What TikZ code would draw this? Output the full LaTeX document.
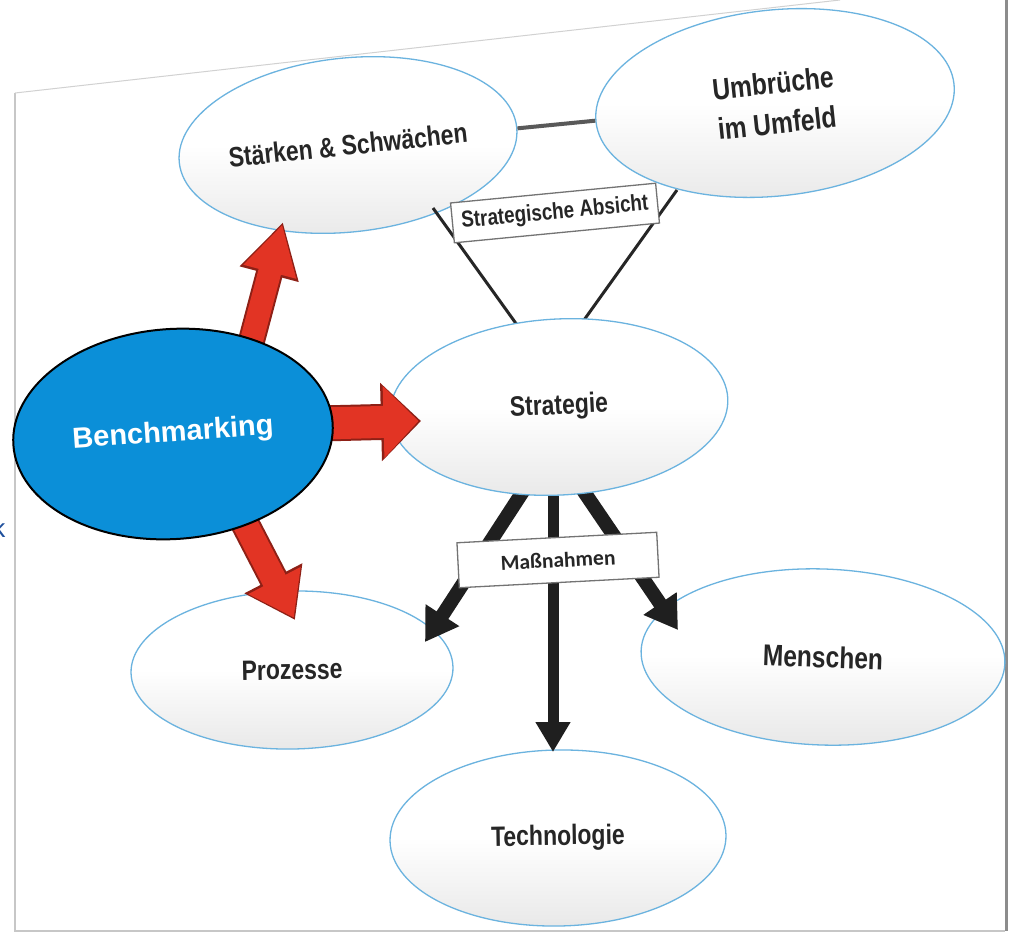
\documentclass[tikz,border=0pt]{standalone}
\usepackage{fontspec}
\setmainfont{Liberation Sans}
\newfontfamily\condfont{Liberation Sans}[FakeStretch=0.82]
\newfontfamily\calfont{Carlito}
\usetikzlibrary{shapes.geometric,arrows.meta}
\definecolor{ellblue}{HTML}{6BB3DF}
\definecolor{benchblue}{HTML}{0B8FD8}
\definecolor{redfill}{HTML}{E23424}
\definecolor{reddark}{HTML}{8E2016}
\definecolor{txt}{HTML}{262626}
\definecolor{kblue}{HTML}{1E4F9C}
\begin{document}
\begin{tikzpicture}[x=1pt,y=-1pt,
  ell/.style={ellipse, draw=ellblue, line width=1.3pt, top color=white, bottom color=black!9, middle color=white,
    inner sep=0pt, text=txt, align=center, font=\condfont\bfseries\fontsize{28}{36}\selectfont},
  labbox/.style={draw=black!55, fill=white, line width=1.3pt, inner sep=0pt, text=txt},
  tri/.style={draw=black!85, line width=3pt},
  blk/.style={draw=black!88, line width=14pt, -{Triangle[length=32pt,width=38pt]}},
  redout/.style={draw=reddark},
  redin/.style={draw=redfill},
  frame/.style={draw=black!22, line width=1.5pt}
]
\useasboundingbox (0,0) rectangle (1009,935);
\fill[white] (0,0) rectangle (1009,935);
% frame
\draw[frame] (15,93) -- (15,931) -- (1005,931);
\draw[black!18, line width=1pt] (15,93) -- (840,0);
\draw[black!45, line width=3pt] (1006,0) -- (1006,931);

% white ellipses
\node[ell, minimum width=330pt, minimum height=174pt, rotate=6] (staerken) at (348,145) {St\"arken \& Schw\"achen};
\node[ell, minimum width=360pt, minimum height=186pt, rotate=6, font=\condfont\bfseries\fontsize{30}{40}\selectfont] (umbr) at (775,103) {Umbr\"uche\\im Umfeld};
\node[ell, minimum width=322pt, minimum height=158pt, rotate=1] (proz) at (292,670) {Prozesse};
\node[ell, minimum width=364pt, minimum height=176pt, rotate=-2, font=\condfont\bfseries\fontsize{30}{36}\selectfont] (mensch) at (823,657) {Menschen};
\node[ell, minimum width=336pt, minimum height=176pt, rotate=1] (tech) at (558,838) {Technologie};

% connecting lines
\draw[draw=black!65, line width=4pt] (staerken) -- (umbr);
\coordinate (tl1) at (433,208);
\coordinate (tl2) at (525,336);
\coordinate (tr1) at (677,190);
\coordinate (tr2) at (579,327);
\draw[tri] (tl1) -- (tl2);
\draw[tri] (tr1) -- (tr2);

% black arrows
\coordinate (bl0) at (533,476);
\coordinate (bl1) at (425,642);
\coordinate (bm0) at (553,470);
\coordinate (bm1) at (553,752);
\coordinate (br0) at (574,477);
\coordinate (br1) at (678,630);
\draw[blk] (bl0) -- (bl1);
\draw[blk, line width=11pt, -{Triangle[length=30pt,width=33pt]}] (bm0) -- (bm1);
\draw[blk] (br0) -- (br1);

% red arrows up and down
\coordinate (ru0) at (244,369);
\coordinate (ru1) at (283,222);
\coordinate (rd0) at (226,487);
\coordinate (rd1) at (295,620);
\draw[redout, line width=27pt, -{Triangle[length=54pt,width=57pt]}] (ru0) -- (ru1);
\draw[redin, line width=23pt, shorten >=2.5pt, -{Triangle[length=49pt,width=51pt]}] (ru0) -- (ru1);
\draw[redout, line width=29pt, -{Triangle[length=47pt,width=62pt]}] (rd0) -- (rd1);
\draw[redin, line width=25pt, shorten >=2.5pt, -{Triangle[length=42pt,width=56pt]}] (rd0) -- (rd1);

% Strategie
\node[ell, minimum width=338pt, minimum height=176pt, rotate=3] (strat) at (559,407) {Strategie};

% red right arrow
\coordinate (rr0) at (300,424);
\coordinate (rr1) at (421,421);
\draw[redout, line width=36pt, -{Triangle[length=40pt,width=76pt]}] (rr0) -- (rr1);
\draw[redin, line width=32pt, shorten >=2.5pt, -{Triangle[length=35pt,width=70pt]}] (rr0) -- (rr1);

% label boxes
\node[labbox, minimum width=206pt, minimum height=40pt, rotate=5.5,
  font=\condfont\bfseries\fontsize{23}{26}\selectfont] (absicht) at (555,213) {Strategische Absicht};
\node[labbox, minimum width=200pt, minimum height=45pt, rotate=3,
  font=\calfont\bfseries\fontsize{21.5}{26}\selectfont] (mass) at (558,560) {Ma\ss nahmen};

% Benchmarking
\node[ellipse, draw=black, line width=2pt, fill=benchblue, minimum width=320pt, minimum height=210pt,
  inner sep=0pt, rotate=4, text=white, font=\bfseries\fontsize{29}{34}\selectfont] (bench) at (173,434) {Benchmarking};

% stray letter at the left edge
\node[anchor=base, inner sep=0pt, text=kblue, font=\fontsize{26}{30}\selectfont] (kk) at (-1,537) {k};
\end{tikzpicture}
\end{document}
